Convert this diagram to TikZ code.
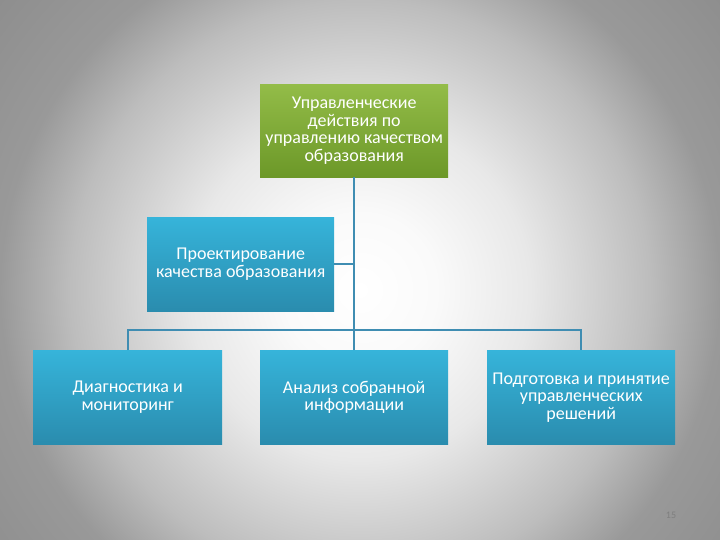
\documentclass[tikz,border=0pt]{standalone}
\usepackage{fontspec}
\setmainfont{Carlito}
\definecolor{conncol}{HTML}{3F8DB2}
\definecolor{gtop}{HTML}{93BC48}
\definecolor{gbot}{HTML}{6C9828}
\definecolor{btop}{HTML}{36B4DA}
\definecolor{bbot}{HTML}{2A8CAE}
\definecolor{pgnum}{HTML}{7F7F7F}
\pgfdeclareradialshading{bgshade}{\pgfpoint{0bp}{0bp}}{%
  color(0bp)=(white); color(4bp)=(white!98!black); color(8.85bp)=(white!91!black);
  color(15.1bp)=(white!74!black); color(18.75bp)=(white!60!black);
  color(25bp)=(white!55!black); color(50bp)=(white!55!black)}
\tikzset{
  box/.style={rectangle, draw=none, text=white, align=center,
    font=\fontsize{18}{17.5}\selectfont, inner sep=0pt, anchor=north west},
  gbox/.style={box, top color=gtop, bottom color=gbot},
  bbox/.style={box, top color=btop, bottom color=bbot},
  conn/.style={draw=conncol, line width=1.6pt}
}
\begin{document}
\begin{tikzpicture}[x=1pt,y=-1pt]
\useasboundingbox (0,0) rectangle (720,540);
\begin{scope}
\clip (0,0) rectangle (720,540);
\shade[shading=bgshade] (360,290) circle[radius=480pt];
\end{scope}
% boxes
\node[gbox, minimum width=188pt, minimum height=93pt] (top) at (260,84)
  {Управленческие\\действия по\\управлению качеством\\образования};
\node[bbox, minimum width=187pt, minimum height=94pt] (mid) at (147,217)
  {Проектирование\\качества образования};
\node[bbox, minimum width=189pt, minimum height=94pt] (d1) at (33,350)
  {Диагностика и\\мониторинг};
\node[bbox, minimum width=188pt, minimum height=94pt] (d2) at (260,350)
  {Анализ собранной\\информации};
\node[bbox, minimum width=188pt, minimum height=94pt] (d3) at (487,350)
  {Подготовка и принятие\\управленческих\\решений};
% connectors
\coordinate (hub) at (354,330);
\draw[conn] (top.south) -- (top.south |- hub);
\draw[conn] (mid.east) -- (mid.east -| top.south);
\draw[conn] (d1.north) -- (d1.north |- hub) -- (d3.north |- hub) -- (d3.north);
\draw[conn] (d2.north) -- (d2.north |- hub);
% page number
\node[text=pgnum, font=\fontsize{10}{11}\selectfont] (pg) at (671,515) {15};
\end{tikzpicture}
\end{document}
